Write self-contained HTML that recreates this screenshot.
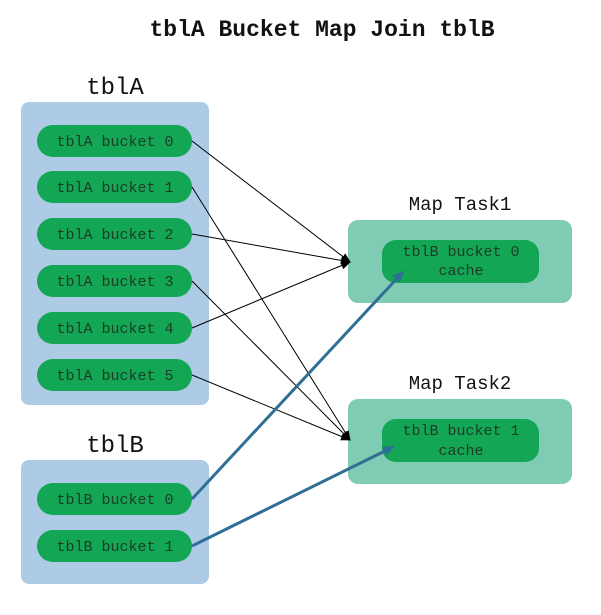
<!DOCTYPE html>
<html><head><style>
body{margin:0;background:#fff;}
svg text{font-family:"Liberation Mono","Noto Serif CJK SC",monospace;}
</style></head><body>
<svg width="601" height="610" viewBox="0 0 601 610" xmlns="http://www.w3.org/2000/svg">
<defs>
<marker id="ab" markerWidth="10" markerHeight="10" refX="9" refY="5" orient="auto" markerUnits="userSpaceOnUse"><path d="M0,1 L10,5 L0,9 z" fill="#000"/></marker>
<marker id="ablue" markerWidth="12" markerHeight="12" refX="10" refY="6" orient="auto" markerUnits="userSpaceOnUse"><path d="M0,1 L12,6 L0,11 z" fill="#2f6f95"/></marker>
</defs>
<text x="322" y="36" text-anchor="middle" font-size="23" font-weight="bold" fill="#111">tblA Bucket Map Join tblB</text>
<text x="115" y="94" text-anchor="middle" font-size="24" fill="#111">tblA</text>
<text x="115" y="452" text-anchor="middle" font-size="24" fill="#111">tblB</text>
<rect x="21" y="102" width="188" height="303" rx="8" fill="#aecbe6"/>
<rect x="21" y="460" width="188" height="124" rx="8" fill="#aecbe6"/>
<g fill="#13a654">
<rect x="37" y="125" width="155" height="32" rx="16"/>
<rect x="37" y="171" width="155" height="32" rx="16"/>
<rect x="37" y="218" width="155" height="32" rx="16"/>
<rect x="37" y="265" width="155" height="32" rx="16"/>
<rect x="37" y="312" width="155" height="32" rx="16"/>
<rect x="37" y="359" width="155" height="32" rx="16"/>
<rect x="37" y="483" width="155" height="32" rx="16"/>
<rect x="37" y="530" width="155" height="32" rx="16"/>
</g>
<g font-size="15" fill="#1d3b25" text-anchor="middle">
<text x="115" y="146">tblA bucket 0</text>
<text x="115" y="192">tblA bucket 1</text>
<text x="115" y="239">tblA bucket 2</text>
<text x="115" y="286">tblA bucket 3</text>
<text x="115" y="333">tblA bucket 4</text>
<text x="115" y="380">tblA bucket 5</text>
<text x="115" y="504">tblB bucket 0</text>
<text x="115" y="551">tblB bucket 1</text>
</g>
<text x="460" y="210" text-anchor="middle" font-size="19" fill="#111">Map Task1</text>
<text x="460" y="389" text-anchor="middle" font-size="19" fill="#111">Map Task2</text>
<rect x="348" y="220" width="224" height="83" rx="10" fill="#80cbb3"/>
<rect x="348" y="399" width="224" height="85" rx="10" fill="#80cbb3"/>
<rect x="382" y="240" width="157" height="43" rx="14" fill="#13a654"/>
<rect x="382" y="419" width="157" height="43" rx="14" fill="#13a654"/>
<g font-size="15" fill="#1d3b25" text-anchor="middle">
<text x="461" y="256">tblB bucket 0</text>
<text x="461" y="275">cache</text>
<text x="461" y="435">tblB bucket 1</text>
<text x="461" y="455">cache</text>
</g>
<g stroke="#000" stroke-width="1" marker-end="url(#ab)">
<line x1="192" y1="141" x2="350" y2="262"/>
<line x1="192" y1="234" x2="350" y2="262"/>
<line x1="192" y1="328" x2="350" y2="262"/>
<line x1="192" y1="187" x2="350" y2="440"/>
<line x1="192" y1="281" x2="350" y2="440"/>
<line x1="192" y1="375" x2="350" y2="440"/>
</g>
<g stroke="#2f6f95" stroke-width="3" marker-end="url(#ablue)">
<line x1="192" y1="499" x2="403" y2="272"/>
<line x1="192" y1="546" x2="393" y2="447"/>
</g>
</svg>
</body></html>
